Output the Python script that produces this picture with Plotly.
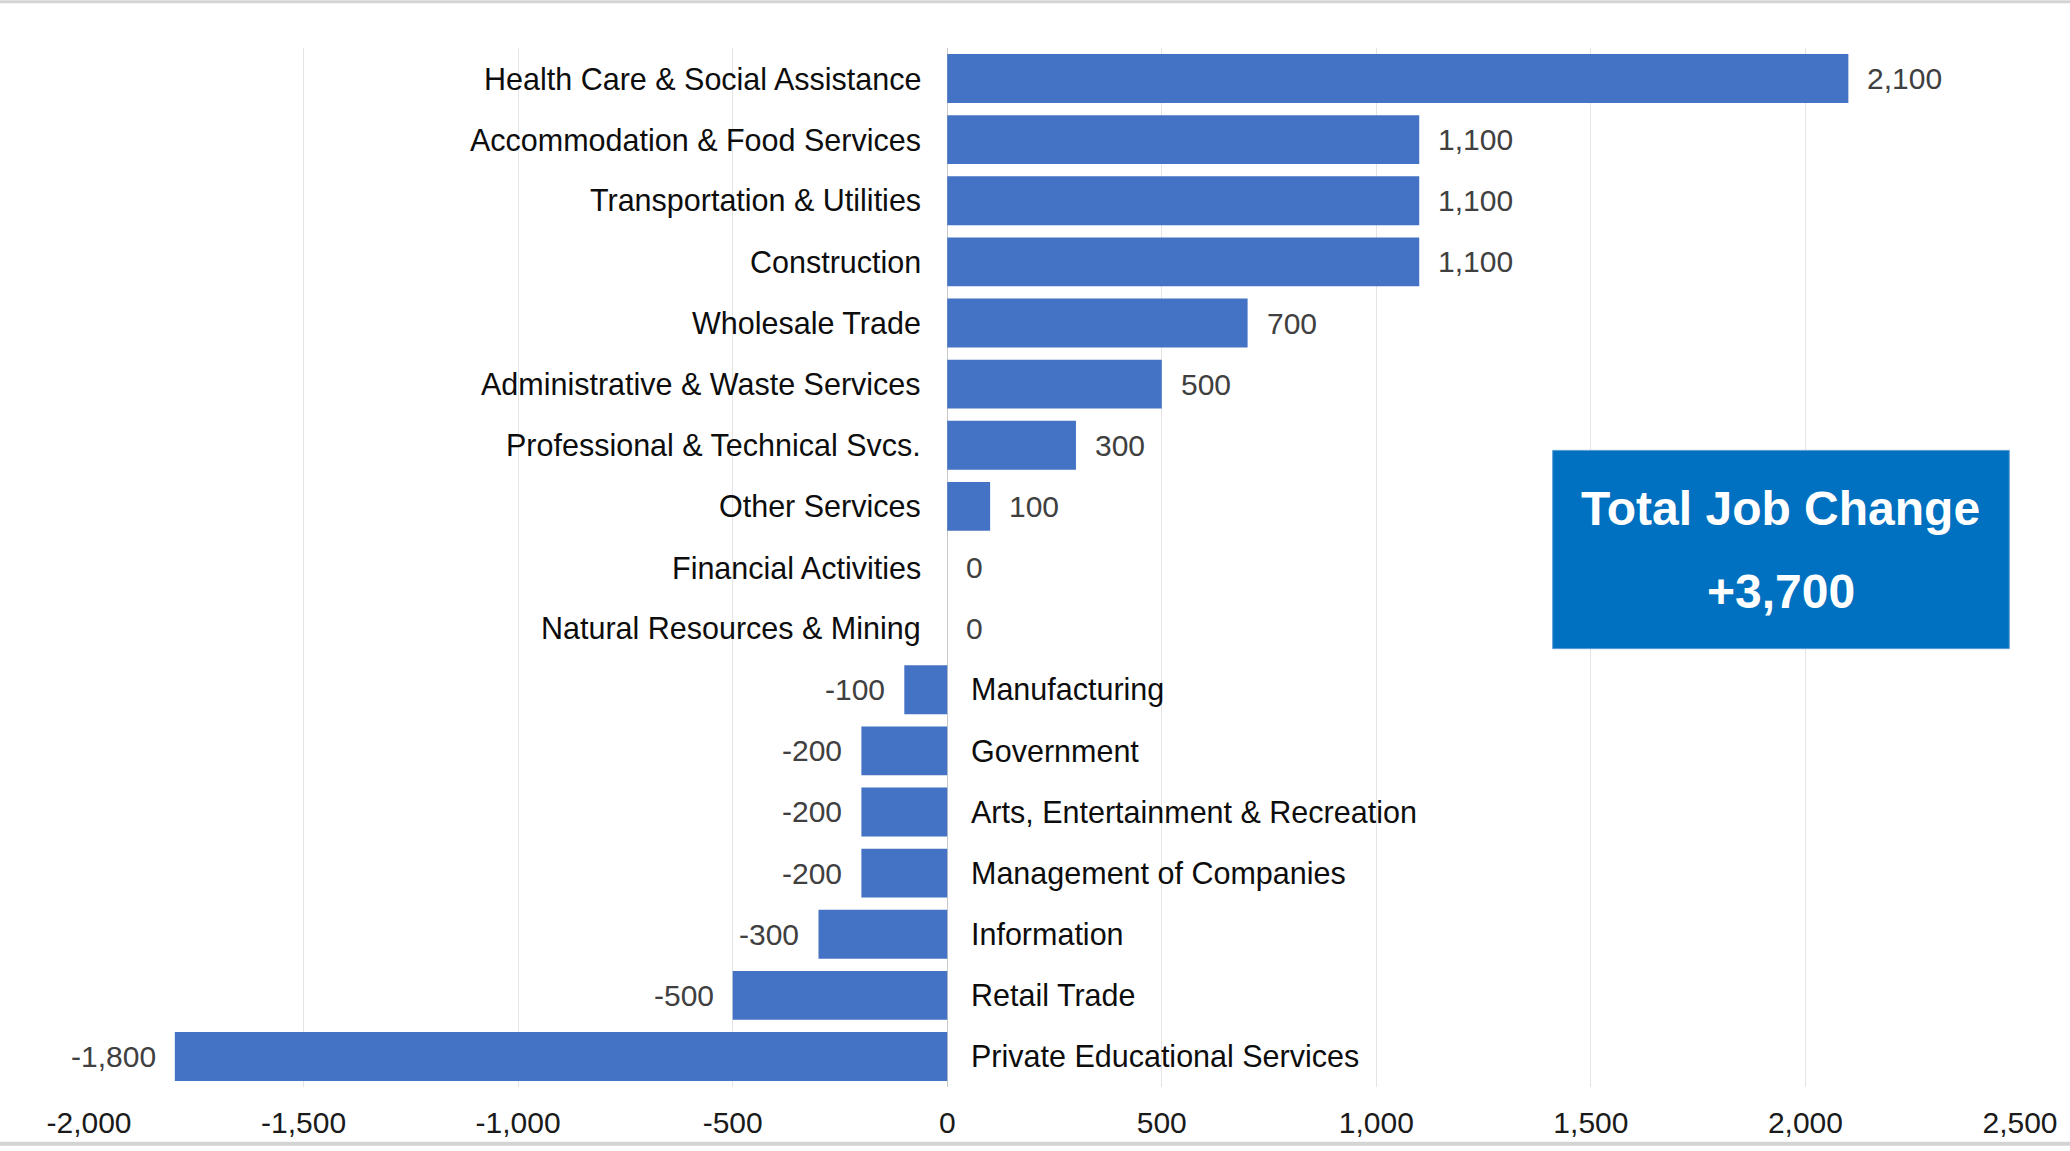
import plotly.graph_objects as go

categories = [
    "Health Care & Social Assistance",
    "Accommodation & Food Services",
    "Transportation & Utilities",
    "Construction",
    "Wholesale Trade",
    "Administrative & Waste Services",
    "Professional & Technical Svcs.",
    "Other Services",
    "Financial Activities",
    "Natural Resources & Mining",
    "Manufacturing",
    "Government",
    "Arts, Entertainment & Recreation",
    "Management of Companies",
    "Information",
    "Retail Trade",
    "Private Educational Services",
]
values = [2100, 1100, 1100, 1100, 700, 500, 300, 100, 0, 0,
          -100, -200, -200, -200, -300, -500, -1800]
tick_vals = [-2000, -1500, -1000, -500, 0, 500, 1000, 1500, 2000, 2500]
tick_text = [f"{t:,}" for t in tick_vals]
box_title = "Total Job Change"
box_value = "+3,700"

FONT = "Liberation Sans, Arial, sans-serif"
W, H = 2070, 1151
ML, MR, MT, MB = 89, 45, 48, 60

fig = go.Figure(go.Bar(
    y=categories, x=values, orientation="h",
    marker=dict(color="#4472C4", line=dict(width=0)),
    hoverinfo="x+y",
))

annotations = []
for c, v in zip(categories, values):
    if v >= 0:
        annotations.append(dict(x=0, y=c, xref="x", yref="y", text=c, showarrow=False,
                                xanchor="right", xshift=-24,
                                font=dict(family=FONT, size=30.5, color="#0d0d0d")))
        annotations.append(dict(x=v, y=c, xref="x", yref="y", text=f"{v:,}", showarrow=False,
                                xanchor="left", xshift=17,
                                font=dict(family=FONT, size=30, color="#404040")))
    else:
        annotations.append(dict(x=0, y=c, xref="x", yref="y", text=c, showarrow=False,
                                xanchor="left", xshift=22,
                                font=dict(family=FONT, size=30.5, color="#0d0d0d")))
        annotations.append(dict(x=v, y=c, xref="x", yref="y", text=f"{v:,}", showarrow=False,
                                xanchor="right", xshift=-17,
                                font=dict(family=FONT, size=30, color="#404040")))

annotations.append(dict(x=1943, y=0.557, xref="x", yref="paper", text=f"<b>{box_title}</b>",
                        showarrow=False, xanchor="center", yanchor="middle",
                        font=dict(family=FONT, size=48, color="white")))
annotations.append(dict(x=1943, y=0.4765, xref="x", yref="paper", text=f"<b>{box_value}</b>",
                        showarrow=False, xanchor="center", yanchor="middle",
                        font=dict(family=FONT, size=48, color="white")))

shapes = [
    dict(type="rect", xref="x", yref="paper", x0=1411, x1=2475, y0=0.4219, y1=0.6127,
         fillcolor="#0070C0", line=dict(color="#5b9bd5", width=1), layer="above"),
    dict(type="line", xref="paper", yref="paper", x0=-0.1, x1=1.1, y0=1.0446, y1=1.0446,
         line=dict(color="#d4d4d4", width=3)),
    dict(type="line", xref="paper", yref="paper", x0=-0.1, x1=1.1, y0=-0.0547, y1=-0.0547,
         line=dict(color="#d4d4d4", width=4)),
]

fig.update_layout(
    width=W, height=H,
    margin=dict(l=ML, r=MR, t=MT, b=MB),
    paper_bgcolor="white", plot_bgcolor="white",
    bargap=0.2,
    showlegend=False,
    font=dict(family=FONT, size=30, color="#1a1a1a"),
    annotations=annotations,
    shapes=shapes,
    xaxis=dict(range=[-2000, 2500], tickvals=tick_vals, ticktext=tick_text,
               showgrid=True, gridcolor="#e4e4e4", gridwidth=1,
               zeroline=True, zerolinecolor="#c8c8c8", zerolinewidth=1,
               showline=False, ticks="", ticklabelstandoff=15,
               tickfont=dict(family=FONT, size=30, color="#1a1a1a")),
    yaxis=dict(autorange="reversed", showticklabels=False, showgrid=False,
               zeroline=False, ticks="", showline=False),
)

fig.write_html("out.html", config={"displayModeBar": False},
               post_script="document.body.style.margin='0px';document.body.style.overflow='hidden';")
